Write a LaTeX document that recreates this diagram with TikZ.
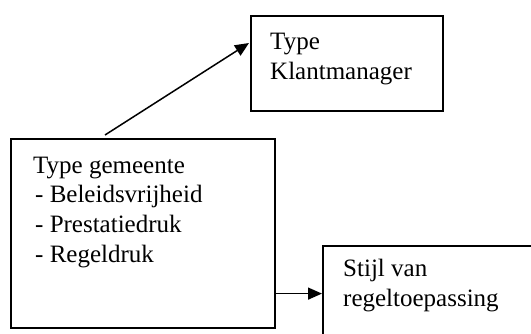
\documentclass[tikz,border=0pt]{standalone}
\usepackage{fontspec}
\setmainfont{Liberation Serif}
\usetikzlibrary{arrows.meta}
\begin{document}
\begin{tikzpicture}[x=1pt,y=1pt,
  box/.style={draw=black,line width=1.6pt,inner sep=0pt,anchor=north west},
  % multi-line labels are placed by the baseline of their last line
  label/.style={anchor=base west,inner sep=0pt,align=left,
    font=\fontsize{25}{29.6}\selectfont},
  link/.style={line width=1.5pt,-{Triangle[length=14pt,width=12pt]}}]
  \useasboundingbox (0,0) rectangle (531,333);
  \clip (0,0) rectangle (531,333);

  % the three boxes
  \node[box,minimum width=264pt,minimum height=189pt] (main) at (10,195) {};
  \node[box,minimum width=192pt,minimum height=95pt] (klant) at (250,318) {};
  \node[box,minimum width=240pt,minimum height=120pt] (stijl) at (322,88) {};

  % box texts
  \node[label] (maintxt) at ([shift={(23,-124)}]main.north west)
    {Type gemeente\\\hspace*{2pt}- Beleidsvrijheid\\\hspace*{2pt}- Prestatiedruk\\\hspace*{2pt}- Regeldruk};
  \node[label] (klanttxt) at ([shift={(20,-64)}]klant.north west)
    {Type\\Klantmanager};
  \node[label] (stijltxt) at ([shift={(21,-61)}]stijl.north west)
    {Stijl van\\regeltoepassing};

  % connectors
  \coordinate (m1) at ([shift={(95,3)}]main.north west);
  \coordinate (k1) at ([shift={(-1,-28)}]klant.north west);
  \draw[link] (m1) -- (k1);
  \coordinate (m2) at ([yshift=35pt]main.south east);
  \draw[link] (m2) -- (m2 -| stijl.west);
\end{tikzpicture}
\end{document}
